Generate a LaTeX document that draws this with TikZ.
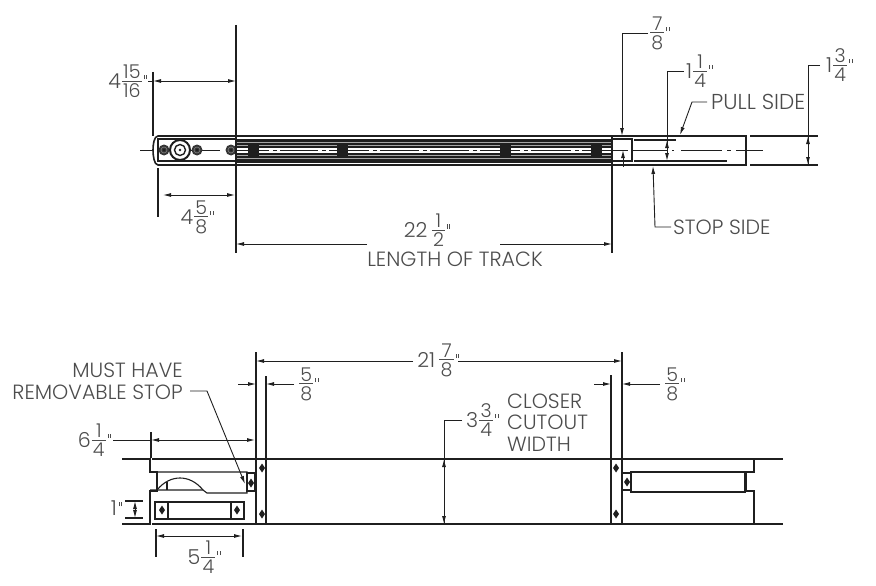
\documentclass[tikz,border=0pt]{standalone}
\usepackage{fontspec}
\setmainfont{Poppins Light}
\usetikzlibrary{arrows.meta}
\definecolor{ink}{gray}{0.12}
\definecolor{txt}{gray}{0.30}
\newcommand{\fr}[2]{\kern1pt\raisebox{2pt}{$\vcenter{\offinterlineskip\fontsize{19}{19}\selectfont\halign{\kern1.2pt\hfil##\hfil\kern1.2pt\cr #1\cr\noalign{\kern2.2pt}\noalign{\hrule height .7pt}\noalign{\kern2.2pt}#2\cr}}$}}
\newcommand{\qq}{\kern2pt\rule[9pt]{.7pt}{4.5pt}\kern1.6pt\rule[9pt]{.7pt}{4.5pt}}
\tikzset{
  x=1pt,y=-1pt,
  ln/.style={draw=ink,line width=1.1pt},
  cl/.style={draw=ink,line width=0.8pt},
  thk/.style={draw=ink,line width=1.6pt},
  wall/.style={draw=ink,line width=2.8pt},
  dim/.style={draw=ink,line width=0.9pt},
  arr/.style={dim,-{Latex[length=8pt,width=4pt]}},
  arrb/.style={dim,{Latex[length=8pt,width=4pt]}-{Latex[length=8pt,width=4pt]}},
  lab/.style={text=txt,font=\fontsize{20.6}{22}\selectfont,inner sep=0pt},
}
\newcommand{\dscrew}[2]{\fill[ink] (#1-3,#2)--(#1,#2-4.5)--(#1+3,#2)--(#1,#2+4.5)--cycle;}
\newcommand{\rscrew}[2]{\fill[ink!90] (#1,#2) circle[radius=5.5];\draw[gray,line width=.6pt] (#1,#2) circle[radius=3];\fill[ink] (#1,#2) circle[radius=1.5];}
\newcommand{\bolt}[1]{\fill[ink] (#1-5.5,145)rectangle(#1+5.5,155.5);}
\begin{document}
\begin{tikzpicture}
\useasboundingbox (0,0) rectangle (876,586);
% ---------- top drawing
\draw[thk] (746,136) -- (158,136) .. controls (154,136) and (153,145) .. (153,150) .. controls (153,155) and (154,165) .. (158,165) -- (746,165) -- cycle;
\fill[ink] (236,138.8) rectangle (612,162.8);
\foreach \y in {142.5,145.5,155,158.5}{\draw[gray!70,line width=.5pt] (236,\y)--(612,\y);}
\fill[white] (236,147.5) rectangle (612,153);
\draw[ink,line width=.9pt] (236,150)--(612,150);
\foreach \x in {276,325,376,426,476,527,578}{\draw[white,line width=1.6pt] (\x-7,150)--(\x-3,150) (\x+1,150)--(\x+4,150);}
\foreach \x in {253,342,505,596}{\bolt{\x}}
\draw[line width=2pt,draw=ink] (236,139) -- (158,139) -- (158,161) -- (236,161);
\draw[cl] (140,150)--(153,150) (158,150)--(220,150);
\rscrew{164}{150}\rscrew{197}{150}\rscrew{231}{150}
\draw[ink,line width=2pt,fill=white] (180,150) circle[radius=10];
\draw[ink,line width=1.4pt] (180,150) circle[radius=5.5];
\fill[ink] (180,150) circle[radius=1.3];
\draw[thk] (612,139) -- (632,139) -- (632,161) -- (612,161);
\draw[ln] (634,140)--(676,140) (634,161)--(727,161);
\draw[cl] (612,150)--(628,150) (632,150)--(668,150) (672,150)--(674,150) (681,150)--(722,150) (727,150)--(731,150) (736,150)--(763,150);
% extensions
\draw[thk] (236,25)--(236,253);
\draw[thk] (612,136)--(612,253);
\draw[ln] (153,72)--(153,136) (158,168)--(158,217);
% dims
\draw[arrb] (153,81)--(236,81); \draw[dim] (148,81)--(153,81);
\node[lab,anchor=east] (a1) at (147,81) {4\fr{15}{16}\qq};
\draw[arrb] (163,195)--(235,195);
\node[lab] (a2) at (197,217) {4\fr{5}{8}\qq};
\draw[arr] (367,244)--(236,244); \draw[arr] (500,244)--(612,244);
\node[lab] (a3) at (427,230.5) {22\,\fr{1}{2}\qq};
\node[lab] (a4) at (455,259) {LENGTH OF TRACK};
\draw[arr] (648,33)--(622,33)--(622,136);
\draw[arr] (623,167)--(623,150);
\node[lab,anchor=west] (a5) at (649,33) {\fr{7}{8}\qq};
\draw[arr] (684,71)--(667,71)--(667,161);
\draw[arr] (667,152)--(667,140);
\node[lab,anchor=west] (a6) at (686,71) {1\fr{1}{4}\qq};
\draw[dim] (820,65)--(808,65)--(808,165);
\draw[arr] (808,146)--(808,136);
\draw[arr] (808,155)--(808,165);
\draw[ln] (750,136)--(818,136) (750,165)--(818,165);
\node[lab,anchor=west] (a7) at (826,65) {1\fr{3}{4}\qq};
\node[lab,anchor=west,font=\fontsize{21.6}{23}\selectfont] (ps) at (711,102) {PULL SIDE};
\draw[arr] (ps.west) ++(-4,0) -- (692,102)--(680,135);
\node[lab,anchor=west] (ss) at (673,227) {STOP SIDE};
\draw[arr] (ss.west) ++(-2,0) -- (655,227)--(653,166);
% ---------- bottom drawing
\draw[thk] (122,459)--(150,459) (152,459)--(753,459) (755,459)--(783,459);
\draw[thk] (122,524)--(150,524) (152,524)--(753,524) (755,524)--(783,524);
\draw[wall] (150,458)--(150,472)--(157,472)--(157,491)--(150,491)--(150,525);
\draw[wall] (754,458)--(754,472)--(746,472)--(746,491)--(754,491)--(754,525);
% left panel
\draw[ln] (157,472)--(247,472)--(247,493)--(207,493)--(203,490)--(150,490);
\draw[ln] (157,490) .. controls (170,474) and (190,474) .. (203,490);
\draw[ln] (167,482)--(167,490);
\draw[ln] (247,473) rectangle (255,491);
\dscrew{251}{483}
\draw[ln] (155,502) rectangle (244,519);
\draw[ln] (168,502)--(168,519) (231,502)--(231,519);
\dscrew{162}{510}\dscrew{237}{510}
% frame
\draw[thk] (256,352)--(256,524) (622,352)--(622,524);
\draw[thk] (266,376)--(266,524) (611,375)--(611,524);
\dscrew{262}{468}\dscrew{262}{514}\dscrew{616}{468}\dscrew{616}{514}
% right panel
\draw[ln] (622,473) rectangle (631,490);
\dscrew{627}{482}
\draw[ln] (631,472) rectangle (745,492);
% bottom dims
\draw[arr] (413,361)--(256,361); \draw[arr] (458,361)--(622,361);
\node[lab] (b1) at (438,360) {21\,\fr{7}{8}\qq};
\draw[arr] (238,384)--(256,384); \draw[arr] (294,384)--(266,384);
\node[lab,anchor=west] (b2) at (298,384) {\fr{5}{8}\qq};
\draw[arr] (594,384)--(611,384); \draw[arr] (660,384)--(622,384);
\node[lab,anchor=west] (b3) at (664,384) {\fr{5}{8}\qq};
\draw[dim] (462,420)--(444,420)--(444,524);
\draw[arr] (444,468)--(444,459);
\draw[arr] (444,515)--(444,524);
\node[lab,anchor=west] (b4) at (466,420) {3\fr{3}{4}\qq};
\node[lab,anchor=west] at (507,401) {CLOSER};
\node[lab,anchor=west] at (507,422) {CUTOUT};
\node[lab,anchor=west] at (507,444) {WIDTH};
\draw[arrb] (151,440)--(255,440); \draw[dim] (113,440)--(151,440);
\draw[ln] (151,432)--(151,458);
\node[lab,anchor=east] (b5) at (111,440) {6\fr{1}{4}\qq};
\draw[ln] (125,501)--(143,501) (125,518)--(143,518);
\draw[arrb] (135,501)--(135,518);
\node[lab,anchor=east] (b6) at (122,508) {1\qq};
\draw[arrb] (156,536)--(242,536);
\draw[ln] (156,529)--(156,557) (243,529)--(243,557);
\node[lab] (b7) at (204,557) {5\fr{1}{4}\qq};
\node[lab,anchor=east] (m1) at (183,370) {MUST HAVE};
\node[lab,anchor=east] (m2) at (183,392) {REMOVABLE STOP};
\draw[arr] (190,391)--(207,391)--(245,484);
\end{tikzpicture}
\end{document}
